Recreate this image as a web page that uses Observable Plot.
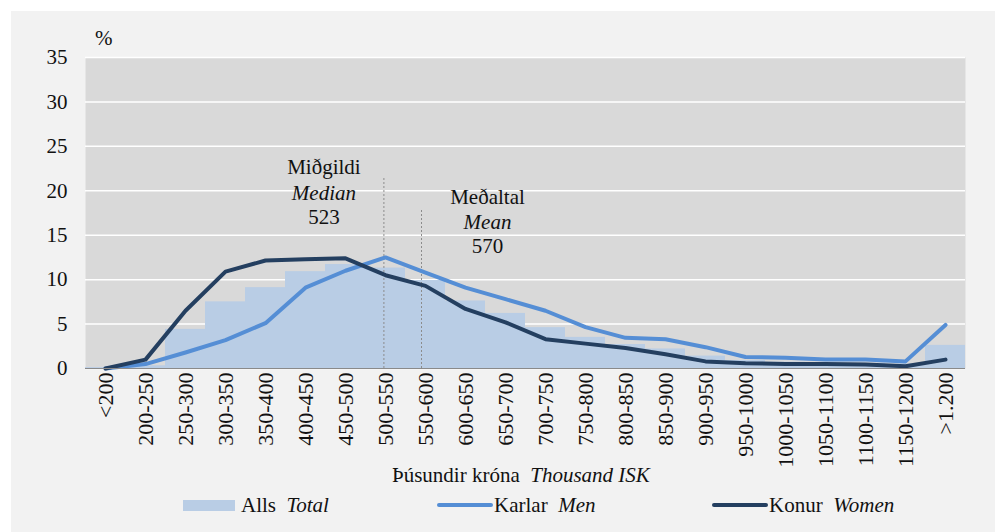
<!DOCTYPE html>
<html>
<head>
<meta charset="utf-8">
<script src="https://cdn.jsdelivr.net/npm/d3@7"></script>
<script src="https://cdn.jsdelivr.net/npm/@observablehq/plot@0.6"></script>
<style>
  html, body { margin: 0; padding: 0; background: #ffffff; }
  body { width: 1000px; height: 532px; position: relative; overflow: hidden; font-family: "Liberation Serif", "Times New Roman", Tinos, "DejaVu Serif", serif; color: #111; }
  #box { position: absolute; left: 11px; top: 11px; width: 984px; height: 530px; background: #f2f2f2; }
  #chart { position: absolute; left: 0; top: 0; }
  #chart svg text { font-family: "Liberation Serif", "Times New Roman", Tinos, "DejaVu Serif", serif; }
  .lbl { position: absolute; font-size: 21px; white-space: nowrap; line-height: 1; }
  .lbl i { font-style: italic; }
  .sw { position: absolute; }
</style>
</head>
<body>
<div id="box">
  <div id="chart"></div>
  <div class="lbl" style="left:84px; top:17px;">%</div>
  <div class="lbl" id="xtitle" style="left:381px; top:454px;">Þúsundir króna&nbsp;&nbsp;<i>Thousand ISK</i></div>
  <div class="sw" style="left:172px; top:489px; width:52px; height:11px; background:#b9cde5;"></div>
  <div class="lbl" style="left:230px; top:484px;">Alls&nbsp;&nbsp;<i>Total</i></div>
  <div class="sw" style="left:426px; top:492px; width:56px; height:4px; border-radius:2px; background:#558ed5;"></div>
  <div class="lbl" style="left:483px; top:484px;">Karlar&nbsp;&nbsp;<i>Men</i></div>
  <div class="sw" style="left:701px; top:492px; width:56px; height:4px; border-radius:2px; background:#243f60;"></div>
  <div class="lbl" style="left:758px; top:484px;">Konur&nbsp;&nbsp;<i>Women</i></div>
</div>
<script>
// Categories (thousand ISK)
const categories = ["<200","200-250","250-300","300-350","350-400","400-450","450-500","500-550","550-600","600-650","650-700","700-750","750-800","800-850","850-900","900-950","950-1000","1000-1050","1050-1100","1100-1150","1150-1200",">1.200"];
// Lower bound of each category (for placing median / mean)
const categoryStart = [150,200,250,300,350,400,450,500,550,600,650,700,750,800,850,900,950,1000,1050,1100,1150,1200];
// Series (%)
const total = [0.1,0.3,4.4,7.5,9.1,10.9,11.7,11.3,9.9,7.6,6.2,4.6,3.5,2.7,2.2,1.4,0.9,0.7,0.6,0.6,0.5,2.6];
const men   = [0,0.5,1.8,3.2,5.1,9.1,11.0,12.5,10.8,9.1,7.8,6.5,4.65,3.45,3.3,2.4,1.3,1.2,1.0,1.0,0.8,4.9];
const women = [0,1.0,6.5,10.9,12.15,12.3,12.4,10.5,9.3,6.7,5.2,3.3,2.8,2.3,1.6,0.8,0.6,0.5,0.5,0.45,0.25,1.0];
// Annotations
const median = 523;
const mean = 570;
const yTicks = [0,5,10,15,20,25,30,35];

const idx = categories.map((_, i) => i);
const toIndex = v => {
  let i = categoryStart.findIndex((s, k) => v >= s && (k === categoryStart.length - 1 || v < categoryStart[k + 1]));
  return i - 0.5 + (v - categoryStart[i]) / 50;
};
const medianX = toIndex(median);
const meanX = toIndex(mean);

const font = "'Liberation Serif', 'Times New Roman', Tinos, 'DejaVu Serif', serif";
const chart = Plot.plot({
  width: 984,
  height: 464,
  marginLeft: 74,
  marginRight: 30,
  marginTop: 46,
  marginBottom: 107,
  style: { background: "transparent", fontFamily: font, fontSize: "21px", color: "#111" },
  x: { type: "linear", domain: [-0.5, categories.length - 0.5], axis: null },
  y: { domain: [0, 35], axis: null },
  marks: [
    Plot.frame({ fill: "#d9d9d9", stroke: "none" }),
    Plot.ruleY(yTicks, { stroke: "#ffffff", strokeWidth: 1.5 }),
    Plot.rectY(idx, { x1: i => i - 0.5, x2: i => i + 0.5, y1: 0, y2: i => total[i], fill: "#b9cde5" }),
    Plot.ruleX([medianX], { y1: 0, y2: 21.5, stroke: "#8c8c8c", strokeWidth: 1, strokeDasharray: "2,2" }),
    Plot.ruleX([meanX], { y1: 0, y2: 17.9, stroke: "#8c8c8c", strokeWidth: 1, strokeDasharray: "2,2" }),
    Plot.line(idx, { x: i => i, y: i => men[i], stroke: "#558ed5", strokeWidth: 4, strokeLinejoin: "round", strokeLinecap: "round" }),
    Plot.line(idx, { x: i => i, y: i => women[i], stroke: "#243f60", strokeWidth: 4, strokeLinejoin: "round", strokeLinecap: "round" }),
    Plot.ruleY([0], { stroke: "#8a8a8a", strokeWidth: 1 }),
    Plot.axisY(yTicks, { tickSize: 0, tickPadding: 18, fontSize: 21, fill: "#111" }),
    Plot.axisX(idx, { tickSize: 0, tickPadding: 4, tickRotate: -90, tickFormat: i => categories[i], fontSize: 22, fill: "#111" }),
    Plot.text(["Miðgildi"], { x: medianX, y: 22.6, dx: -60, fontSize: 21, fill: "#111" }),
    Plot.text(["Median"], { x: medianX, y: 19.7, dx: -60, fontSize: 21, fontStyle: "italic", fill: "#111" }),
    Plot.text([String(median)], { x: medianX, y: 17.0, dx: -60, fontSize: 21, fill: "#111" }),
    Plot.text(["Meðaltal"], { x: meanX, y: 19.25, dx: 66, fontSize: 21, fill: "#111" }),
    Plot.text(["Mean"], { x: meanX, y: 16.5, dx: 66, fontSize: 21, fontStyle: "italic", fill: "#111" }),
    Plot.text([String(mean)], { x: meanX, y: 13.8, dx: 66, fontSize: 21, fill: "#111" })
  ]
});
document.getElementById("chart").appendChild(chart);
</script>
</body>
</html>
